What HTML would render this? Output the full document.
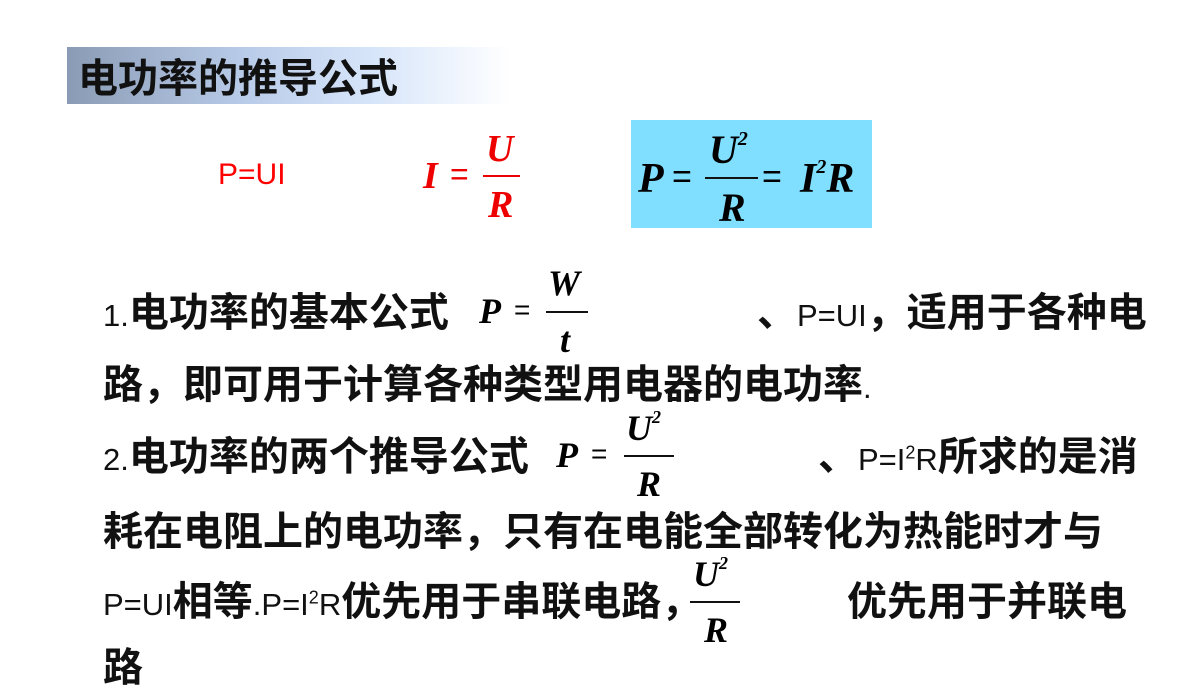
<!DOCTYPE html>
<html><head><meta charset="utf-8"><style>
body{margin:0;width:1200px;height:675px;overflow:hidden;background:#fff;position:relative;font-family:"Liberation Sans","Noto Sans CJK SC",sans-serif}
.a{position:absolute;white-space:nowrap;line-height:1}
.t{font-size:40px;font-weight:bold;color:#111}
.l{font-size:31px;font-weight:normal;color:#111}
.m{font-family:"Liberation Serif",serif;font-style:italic;font-weight:bold}
.bar{position:absolute;height:2px;background:#111}
</style></head><body>
<div class="a" style="left:67px;top:47px;width:443px;height:57px;background:linear-gradient(to right,#8a9bb5,#b8cbe8 40%,#d8e6fa 70%,#fff)"></div>
<div class="a t" style="left:78px;top:59px;font-size:40px">电功率的推导公式</div>

<div class="a" style="left:218px;top:160px;font-size:30px;color:#f00">P=UI</div>
<div class="a m" style="left:423px;top:157px;font-size:38px;color:#e00">I</div>
<div class="a" style="left:450px;top:158px;font-size:32px;color:#e00">=</div>
<div class="a m" style="left:486px;top:130px;font-size:38px;color:#e00">U</div>
<div class="bar" style="left:483px;top:175px;width:37px;background:#e00"></div>
<div class="a m" style="left:488px;top:186px;font-size:38px;color:#e00">R</div>

<div class="a" style="left:631px;top:120px;width:241px;height:108px;background:#80dfff"></div>
<div class="a m" style="left:638px;top:158px;font-size:42px">P</div>
<div class="a" style="left:672px;top:160px;font-size:34px">=</div>
<div class="a m" style="left:709px;top:130px;font-size:40px">U<sup style="font-size:20px;position:relative;top:-4px">2</sup></div>
<div class="bar" style="left:705px;top:177px;width:53px"></div>
<div class="a m" style="left:719px;top:188px;font-size:40px">R</div>
<div class="a" style="left:762px;top:160px;font-size:34px">=</div>
<div class="a m" style="left:800px;top:158px;font-size:42px">I<sup style="font-size:20px;position:relative;top:-4px">2</sup>R</div>

<div class="a t" style="left:103px;top:293px"><span class="l">1.</span>电功率的基本公式</div>
<div class="a m" style="left:479px;top:293px;font-size:36px;font-weight:bold">P</div>
<div class="a" style="left:514px;top:296px;font-size:28px">=</div>
<div class="a m" style="left:548px;top:265px;font-size:36px">W</div>
<div class="bar" style="left:546px;top:311px;width:42px"></div>
<div class="a m" style="left:560px;top:322px;font-size:36px">t</div>
<div class="a t" style="left:757px;top:293px">、<span class="l">P=UI</span>，适用于各种电</div>

<div class="a t" style="left:103px;top:365px">路，即可用于计算各种类型用电器的电功率<span class="l">.</span></div>

<div class="a t" style="left:103px;top:437px"><span class="l">2.</span>电功率的两个推导公式</div>
<div class="a m" style="left:556px;top:437px;font-size:36px">P</div>
<div class="a" style="left:591px;top:440px;font-size:28px">=</div>
<div class="a m" style="left:626px;top:410px;font-size:36px">U<sup style="font-size:18px;position:relative;top:-4px">2</sup></div>
<div class="bar" style="left:624px;top:455px;width:50px"></div>
<div class="a m" style="left:637px;top:466px;font-size:36px">R</div>
<div class="a t" style="left:818px;top:437px">、<span class="l">P=I<sup style="font-size:18px">2</sup>R</span>所求的是消</div>

<div class="a t" style="left:103px;top:512px">耗在电阻上的电功率，只有在电能全部转化为热能时才与</div>

<div class="a t" style="left:103px;top:582px"><span class="l">P=UI</span>相等<span class="l">.P=I<sup style="font-size:18px">2</sup>R</span>优先用于串联电路，</div>
<div class="a m" style="left:693px;top:556px;font-size:36px">U<sup style="font-size:18px;position:relative;top:-4px">2</sup></div>
<div class="bar" style="left:690px;top:601px;width:50px"></div>
<div class="a m" style="left:704px;top:612px;font-size:36px">R</div>
<div class="a t" style="left:847px;top:582px">优先用于并联电</div>

<div class="a t" style="left:103px;top:648px">路</div>
</body></html>
